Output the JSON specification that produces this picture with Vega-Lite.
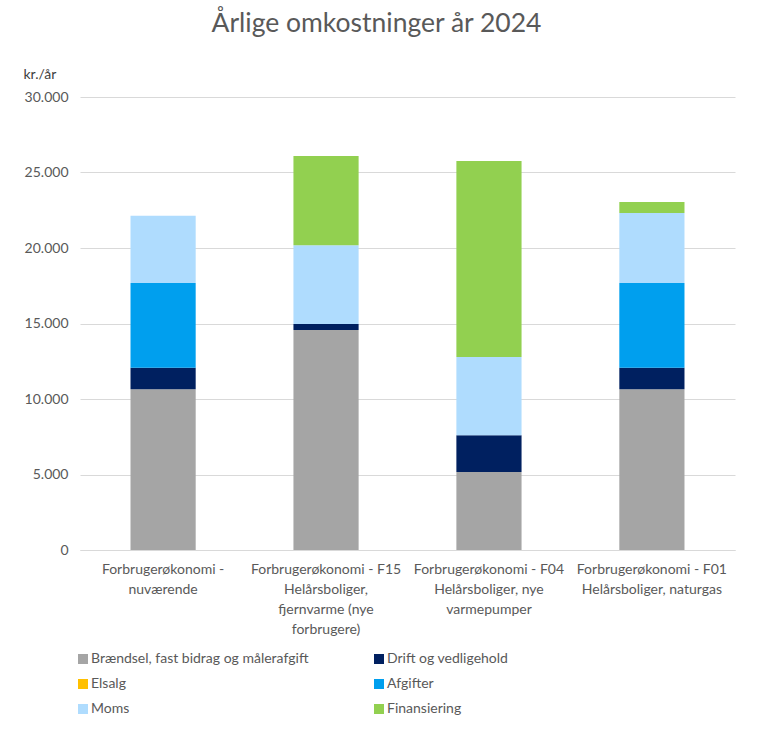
{
  "$schema": "https://vega.github.io/schema/vega-lite/v6.json",
  "width": 655,
  "height": 453,
  "autosize": {"type": "none"},
  "padding": {"left": 80, "top": 97, "right": 29, "bottom": 182},
  "background": "white",
  "title": {
    "text": "Årlige omkostninger år 2024",
    "fontSize": 26.5,
    "font": "Lato",
    "fontWeight": "normal",
    "color": "#595959",
    "anchor": "middle",
    "frame": "group",
    "dx": -31,
    "offset": 30
  },
  "config": {
    "font": "Lato",
    "view": {"stroke": null},
    "title": {"baseline": "alphabetic"}
  },
  "data": {
    "values": [
      {"kategori": "Forbrugerøkonomi - nuværende", "post": "Brændsel, fast bidrag og målerafgift", "kr": 10640},
      {"kategori": "Forbrugerøkonomi - nuværende", "post": "Drift og vedligehold", "kr": 1430},
      {"kategori": "Forbrugerøkonomi - nuværende", "post": "Elsalg", "kr": 0},
      {"kategori": "Forbrugerøkonomi - nuværende", "post": "Afgifter", "kr": 5610},
      {"kategori": "Forbrugerøkonomi - nuværende", "post": "Moms", "kr": 4460},
      {"kategori": "Forbrugerøkonomi - nuværende", "post": "Finansiering", "kr": 0},
      {"kategori": "Forbrugerøkonomi - F15 Helårsboliger, fjernvarme (nye forbrugere)", "post": "Brændsel, fast bidrag og målerafgift", "kr": 14570},
      {"kategori": "Forbrugerøkonomi - F15 Helårsboliger, fjernvarme (nye forbrugere)", "post": "Drift og vedligehold", "kr": 400},
      {"kategori": "Forbrugerøkonomi - F15 Helårsboliger, fjernvarme (nye forbrugere)", "post": "Elsalg", "kr": 0},
      {"kategori": "Forbrugerøkonomi - F15 Helårsboliger, fjernvarme (nye forbrugere)", "post": "Afgifter", "kr": 0},
      {"kategori": "Forbrugerøkonomi - F15 Helårsboliger, fjernvarme (nye forbrugere)", "post": "Moms", "kr": 5210},
      {"kategori": "Forbrugerøkonomi - F15 Helårsboliger, fjernvarme (nye forbrugere)", "post": "Finansiering", "kr": 5910},
      {"kategori": "Forbrugerøkonomi - F04 Helårsboliger, nye varmepumper", "post": "Brændsel, fast bidrag og målerafgift", "kr": 5170},
      {"kategori": "Forbrugerøkonomi - F04 Helårsboliger, nye varmepumper", "post": "Drift og vedligehold", "kr": 2430},
      {"kategori": "Forbrugerøkonomi - F04 Helårsboliger, nye varmepumper", "post": "Elsalg", "kr": 0},
      {"kategori": "Forbrugerøkonomi - F04 Helårsboliger, nye varmepumper", "post": "Afgifter", "kr": 0},
      {"kategori": "Forbrugerøkonomi - F04 Helårsboliger, nye varmepumper", "post": "Moms", "kr": 5180},
      {"kategori": "Forbrugerøkonomi - F04 Helårsboliger, nye varmepumper", "post": "Finansiering", "kr": 12980},
      {"kategori": "Forbrugerøkonomi - F01 Helårsboliger, naturgas", "post": "Brændsel, fast bidrag og målerafgift", "kr": 10640},
      {"kategori": "Forbrugerøkonomi - F01 Helårsboliger, naturgas", "post": "Drift og vedligehold", "kr": 1430},
      {"kategori": "Forbrugerøkonomi - F01 Helårsboliger, naturgas", "post": "Elsalg", "kr": 0},
      {"kategori": "Forbrugerøkonomi - F01 Helårsboliger, naturgas", "post": "Afgifter", "kr": 5610},
      {"kategori": "Forbrugerøkonomi - F01 Helårsboliger, naturgas", "post": "Moms", "kr": 4640},
      {"kategori": "Forbrugerøkonomi - F01 Helårsboliger, naturgas", "post": "Finansiering", "kr": 730}
    ]
  },
  "transform": [
    {"calculate": "indexof(['Brændsel, fast bidrag og målerafgift', 'Drift og vedligehold', 'Elsalg', 'Afgifter', 'Moms', 'Finansiering'], datum.post)", "as": "stakrang"}
  ],
  "mark": {"type": "bar"},
  "encoding": {
    "x": {
      "field": "kategori",
      "type": "nominal",
      "sort": null,
      "scale": {"paddingInner": 0.6, "paddingOuter": 0.31},
      "axis": {
        "title": null,
        "labelAngle": 0,
        "labelFontSize": 14,
        "labelColor": "#595959",
        "labelPadding": 12,
        "labelLineHeight": 20,
        "labelBaseline": "top",
        "labelLimit": 0,
        "ticks": false,
        "domainColor": "#d9d9d9",
        "labelExpr": "datum.value == 'Forbrugerøkonomi - nuværende' ? ['Forbrugerøkonomi -', 'nuværende'] : datum.value == 'Forbrugerøkonomi - F15 Helårsboliger, fjernvarme (nye forbrugere)' ? ['Forbrugerøkonomi - F15', 'Helårsboliger,', 'fjernvarme (nye', 'forbrugere)'] : datum.value == 'Forbrugerøkonomi - F04 Helårsboliger, nye varmepumper' ? ['Forbrugerøkonomi - F04', 'Helårsboliger, nye', 'varmepumper'] : ['Forbrugerøkonomi - F01', 'Helårsboliger, naturgas']"
      }
    },
    "y": {
      "field": "kr",
      "type": "quantitative",
      "aggregate": "sum",
      "stack": "zero",
      "scale": {"domain": [0, 30000], "nice": false},
      "axis": {
        "title": "kr./år",
        "titleAngle": 0,
        "titleAlign": "left",
        "titleBaseline": "bottom",
        "titleX": -57,
        "titleY": -16,
        "titleFontSize": 14,
        "titleFontWeight": "normal",
        "titleColor": "#404040",
        "values": [0, 5000, 10000, 15000, 20000, 25000, 30000],
        "labelExpr": "replace(format(datum.value, ','), ',', '.')",
        "labelFontSize": 14,
        "labelColor": "#595959",
        "labelPadding": 12,
        "ticks": false,
        "domain": false,
        "gridColor": "#d9d9d9",
        "gridWidth": 1
      }
    },
    "order": {"field": "stakrang", "type": "quantitative", "sort": "ascending"},
    "color": {
      "field": "post",
      "type": "nominal",
      "sort": ["Brændsel, fast bidrag og målerafgift", "Drift og vedligehold", "Elsalg", "Afgifter", "Moms", "Finansiering"],
      "scale": {
        "domain": ["Brændsel, fast bidrag og målerafgift", "Drift og vedligehold", "Elsalg", "Afgifter", "Moms", "Finansiering"],
        "range": ["#a5a5a5", "#002060", "#ffc000", "#009fee", "#afdcfe", "#92d050"]
      },
      "legend": {
        "title": null,
        "orient": "none",
        "legendX": -4,
        "legendY": 555,
        "direction": "horizontal",
        "columns": 2,
        "columnPadding": 63,
        "rowPadding": 11,
        "symbolType": "square",
        "symbolSize": 100,
        "symbolStrokeWidth": 0,
        "labelFontSize": 14,
        "labelColor": "#595959",
        "labelOffset": 1,
        "labelLimit": 0
      }
    }
  }
}
